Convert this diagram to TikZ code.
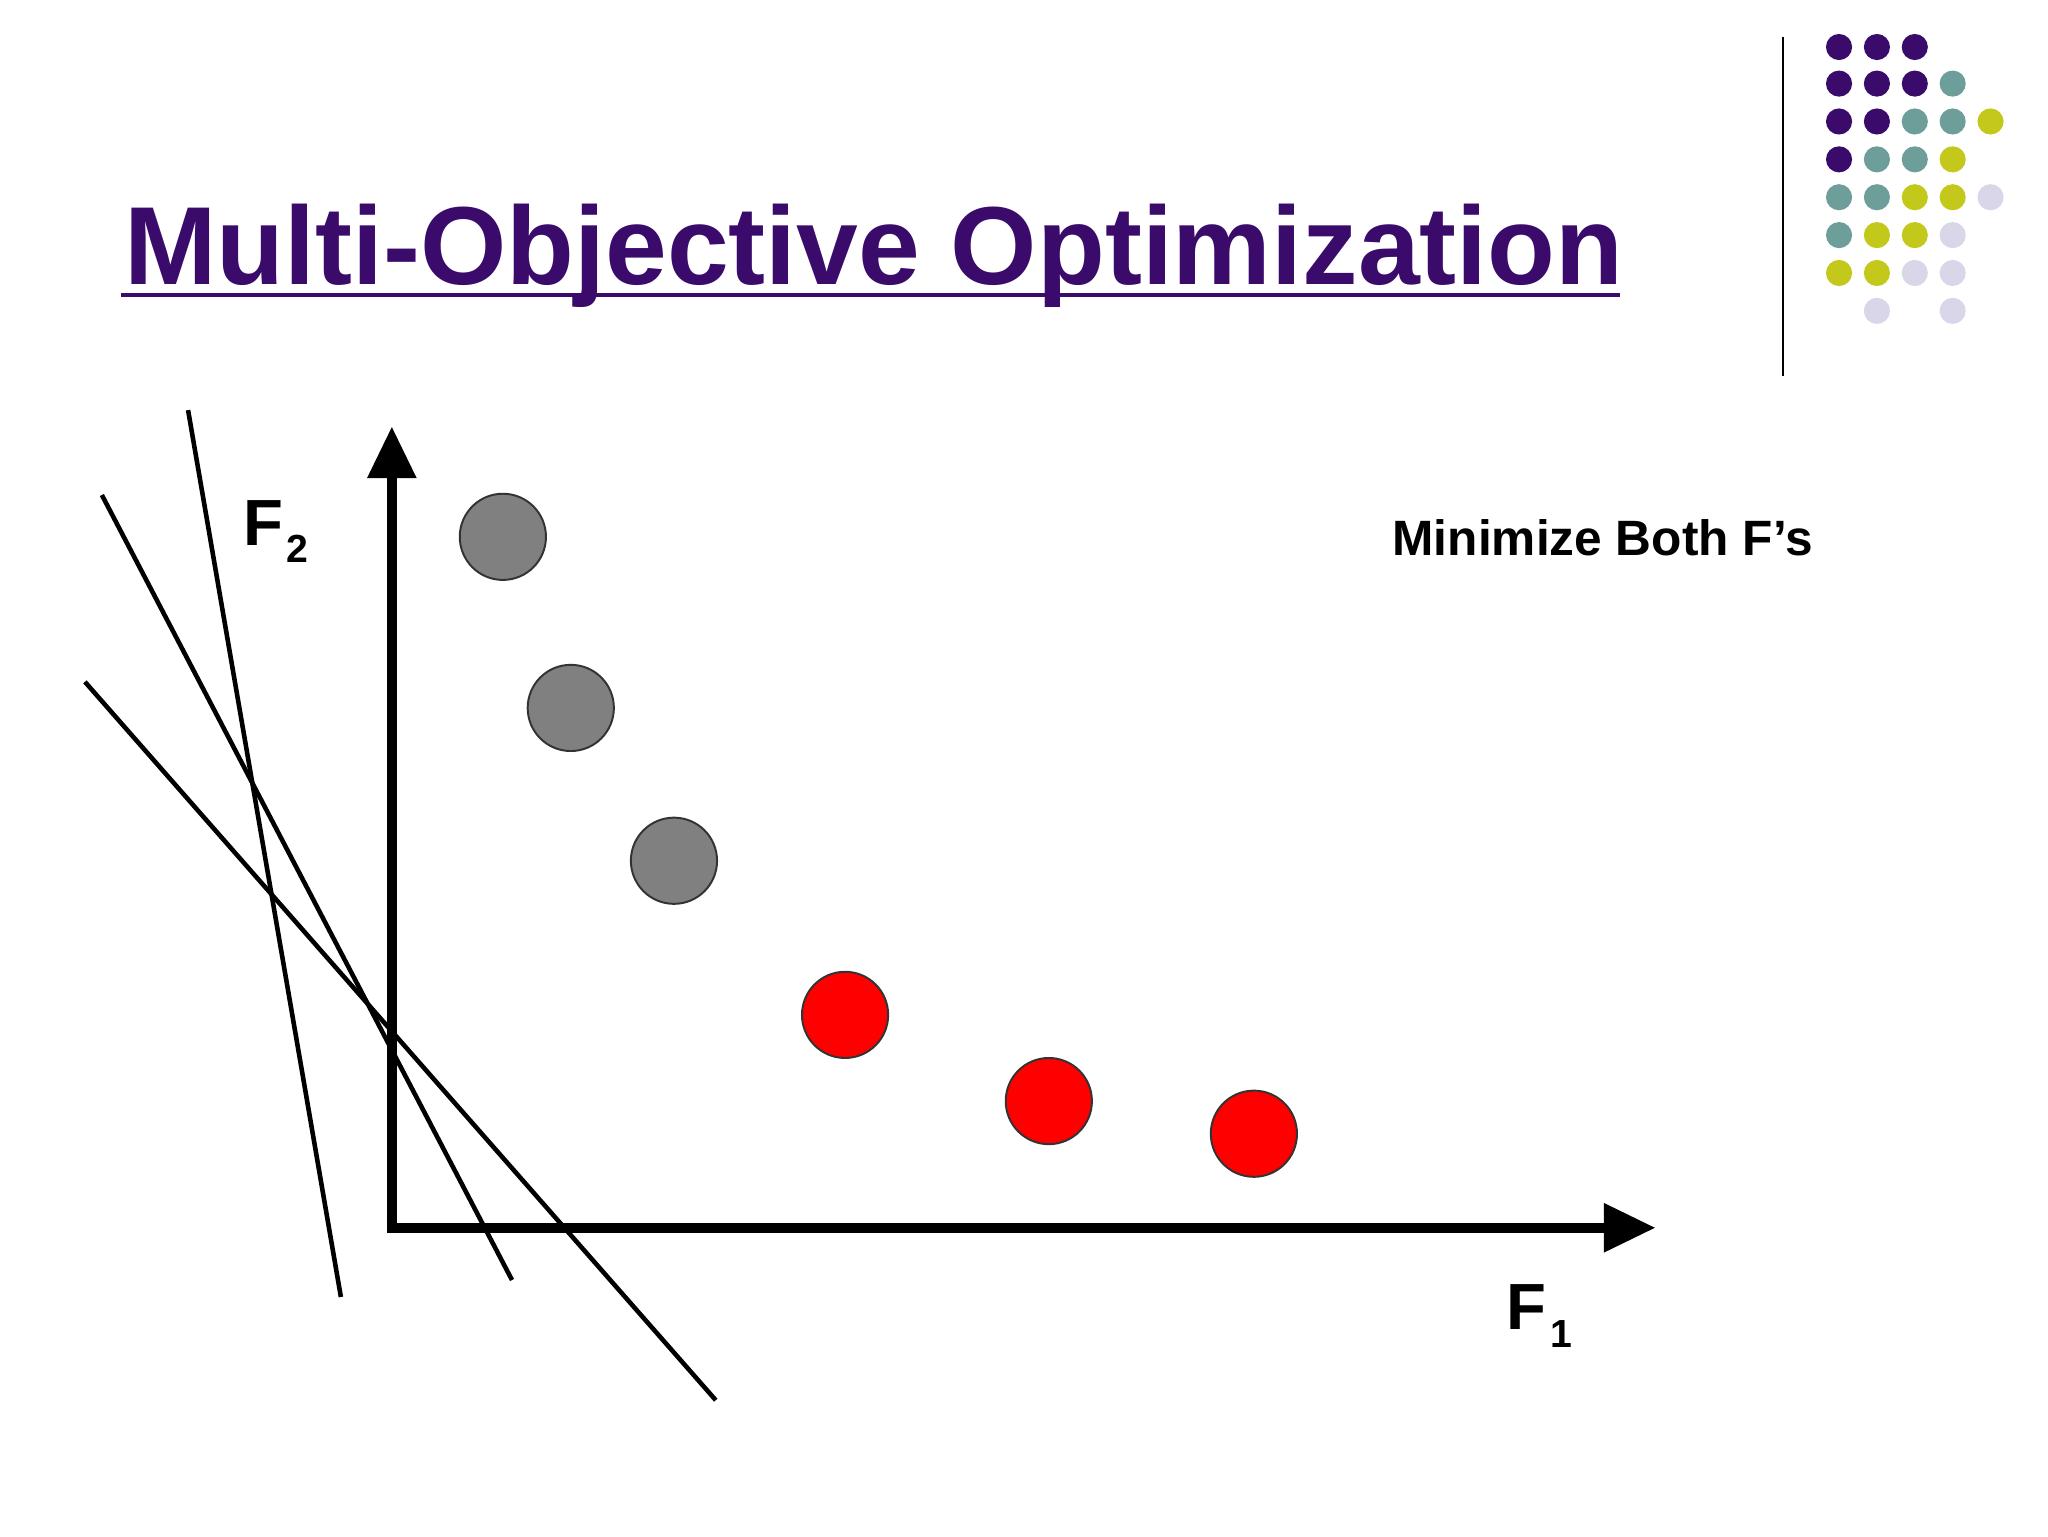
\documentclass[tikz,border=0pt]{standalone}
\usepackage{fontspec}
\setmainfont{Liberation Sans}
\definecolor{pur}{HTML}{3A0B6B}
\definecolor{tea}{HTML}{6E9E9A}
\definecolor{oli}{HTML}{C4C81A}
\definecolor{lav}{HTML}{DAD6EA}
\begin{document}
\begin{tikzpicture}[x=1pt,y=-1pt,
  dotp/.style={circle,minimum size=20pt,inner sep=0pt},
  pt/.style={circle,draw=black!80,line width=1.5pt,minimum size=66pt,inner sep=0pt},
  cut/.style={line width=3.5pt,black}]
\useasboundingbox[fill=white] (0,0) rectangle (1568,1176);
% dot grid
\foreach \c [count=\i from 0] in {pur,pur,pur}{\node[dotp,fill=\c] (a\i) at ({1408+29*\i},36) {};}
\foreach \c [count=\i from 0] in {pur,pur,pur,tea}{\node[dotp,fill=\c] (b\i) at ({1408+29*\i},64) {};}
\foreach \c [count=\i from 0] in {pur,pur,tea,tea,oli}{\node[dotp,fill=\c] (c\i) at ({1408+29*\i},93) {};}
\foreach \c [count=\i from 0] in {pur,tea,tea,oli}{\node[dotp,fill=\c] (e\i) at ({1408+29*\i},122) {};}
\foreach \c [count=\i from 0] in {tea,tea,oli,oli,lav}{\node[dotp,fill=\c] (f\i) at ({1408+29*\i},151) {};}
\foreach \c [count=\i from 0] in {tea,oli,oli,lav}{\node[dotp,fill=\c] (g\i) at ({1408+29*\i},180) {};}
\foreach \c [count=\i from 0] in {oli,oli,lav,lav}{\node[dotp,fill=\c] (h\i) at ({1408+29*\i},209) {};}
\node[dotp,fill=lav] (k1) at (1437,238) {};
\node[dotp,fill=lav] (k3) at (1495,238) {};
\coordinate (vt) at (1365,28); \coordinate (vb) at (1365,288);
\draw[line width=1.5pt] (vt) -- (vb);
% title
\node[anchor=base west,inner sep=0pt,text=pur,font=\fontsize{85}{90}\selectfont\bfseries] (title) at (95,218) {Multi-Objective Optimization};
\coordinate (ul) at (93,226); \coordinate (ur) at (1240,226);
\draw[pur,line width=3.5pt] (ul) -- (ur);
% axes
\coordinate (o) at (300,940);
\coordinate (yt) at (300,366);
\coordinate (xr) at (1228,940);
\draw[line width=8pt] (300,944) -- (yt);
\draw[line width=8pt] (296,940) -- (xr);
\fill (281,366) -- (300,327) -- (319,366) -- cycle;
\fill (1228,921) -- (1267,940) -- (1228,959) -- cycle;
\node[anchor=base west,inner sep=0pt,font=\fontsize{50}{55}\selectfont\bfseries] (F2) at (186,418) {F};
\node[anchor=base west,inner sep=0pt,font=\fontsize{30}{34}\selectfont\bfseries] (s2) at (219,431) {2};
\node[anchor=base west,inner sep=0pt,font=\fontsize{50}{55}\selectfont\bfseries] (F1) at (1153,1018) {F};
\node[anchor=base west,inner sep=0pt,font=\fontsize{30}{34}\selectfont\bfseries] (s1) at (1187,1032) {1};
\node[font=\fontsize{38}{40}\selectfont\bfseries] (min) at (1227,412) {Minimize Both F’s};
% points
\node[pt,fill=gray] (p1) at (385,411) {};
\node[pt,fill=gray] (p2) at (437,542) {};
\node[pt,fill=gray] (p3) at (516,659) {};
\node[pt,fill=red] (p4) at (647,777) {};
\node[pt,fill=red] (p5) at (803,843) {};
\node[pt,fill=red] (p6) at (960,868) {};
% lines
\coordinate (l1a) at (144,314); \coordinate (l1b) at (261,993);
\coordinate (l2a) at (78,379); \coordinate (l2b) at (392,980);
\coordinate (l3a) at (65,522); \coordinate (l3b) at (548,1072);
\draw[cut] (l1a) -- (l1b);
\draw[cut] (l2a) -- (l2b);
\draw[cut] (l3a) -- (l3b);
\end{tikzpicture}
\end{document}
